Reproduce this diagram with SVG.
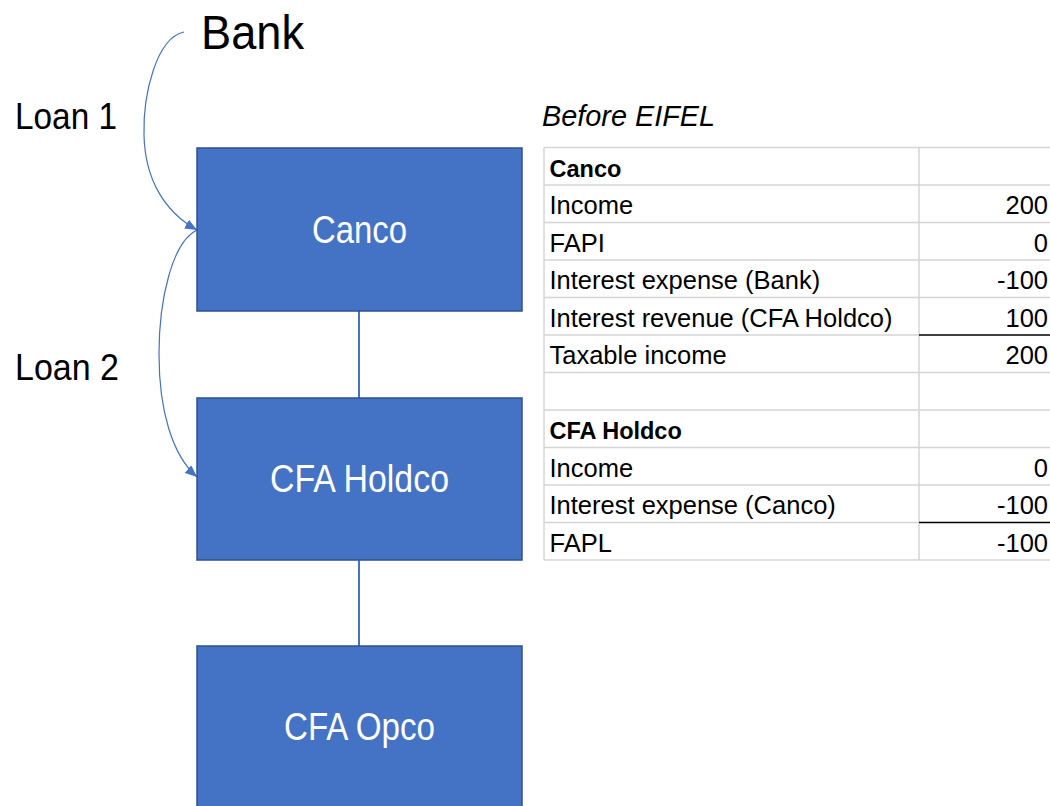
<svg xmlns="http://www.w3.org/2000/svg" width="1050" height="806" viewBox="0 0 1050 806">
  <defs>
    <marker id="arrow" viewBox="0 0 12 10" refX="12" refY="5" markerWidth="12" markerHeight="10" markerUnits="userSpaceOnUse" orient="auto">
      <path d="M0,0 L12,5 L0,10 Z" fill="#4472C4"/>
    </marker>
  </defs>
  <style>
    .box { fill: #4472C4; stroke: #2F528F; stroke-width: 1.5; }
    .boxlabel { font-family: "Liberation Sans", Arial, sans-serif; font-size: 38px; fill: #FFFFFF; text-anchor: middle; }
    .label { font-family: "Liberation Sans", Arial, sans-serif; fill: #000000; }
    .link { fill: none; stroke: #4472C4; stroke-width: 2; }
    .loan { fill: none; stroke: #4472C4; stroke-width: 1.2; marker-end: url(#arrow); }
    .grid { stroke: #D4D4D4; stroke-width: 1.5; }
    .rule { stroke: #000000; stroke-width: 1.5; }
    .cell { font-family: "Liberation Sans", Arial, sans-serif; font-size: 25.5px; fill: #000000; }
    .head { font-family: "Liberation Sans", Arial, sans-serif; font-size: 23.5px; font-weight: bold; fill: #000000; }
    .num { text-anchor: end; }
  </style>
  <rect width="1050" height="806" fill="#FFFFFF"/>

  <!-- connectors -->
  <g id="connectors">
    <line class="link" x1="359" y1="311" x2="359" y2="398"/>
    <line class="link" x1="359" y1="560" x2="359" y2="646"/>
    <path id="loan1" class="loan" d="M184,32 C156,38 143,95 144,135 C145,180 165,212 197,230"/>
    <path id="loan2" class="loan" d="M197,230 C172,242 159,300 159,354 C159,410 172,455 197,477"/>
  </g>

  <!-- entities -->
  <g id="bank">
    <text class="label" x="201" y="49" font-size="49" textLength="103" lengthAdjust="spacingAndGlyphs">Bank</text>
  </g>
  <g id="canco">
    <rect class="box" x="197" y="148" width="325" height="163"/>
    <text class="boxlabel" x="359.5" y="243" textLength="95" lengthAdjust="spacingAndGlyphs">Canco</text>
  </g>
  <g id="cfa-holdco">
    <rect class="box" x="197" y="398" width="325" height="162"/>
    <text class="boxlabel" x="359.5" y="492" textLength="179" lengthAdjust="spacingAndGlyphs">CFA Holdco</text>
  </g>
  <g id="cfa-opco">
    <rect class="box" x="197" y="646" width="325" height="175"/>
    <text class="boxlabel" x="359.5" y="740" textLength="151" lengthAdjust="spacingAndGlyphs">CFA Opco</text>
  </g>

  <!-- loan labels -->
  <g id="loan-labels">
    <text class="label" x="15" y="129" font-size="37" textLength="102" lengthAdjust="spacingAndGlyphs">Loan 1</text>
    <text class="label" x="15" y="380" font-size="37" textLength="104" lengthAdjust="spacingAndGlyphs">Loan 2</text>
  </g>

  <!-- tax computation table -->
  <g id="table">
    <text class="label" x="542" y="126" font-size="30" font-style="italic" textLength="173" lengthAdjust="spacingAndGlyphs">Before EIFEL</text>
    <g id="grid">
      <line class="grid" x1="544" y1="147.5" x2="1050" y2="147.5"/>
      <line class="grid" x1="544" y1="185" x2="1050" y2="185"/>
      <line class="grid" x1="544" y1="222.5" x2="1050" y2="222.5"/>
      <line class="grid" x1="544" y1="260" x2="1050" y2="260"/>
      <line class="grid" x1="544" y1="297.5" x2="1050" y2="297.5"/>
      <line class="grid" x1="544" y1="335" x2="919" y2="335"/>
      <line class="grid" x1="544" y1="372.5" x2="1050" y2="372.5"/>
      <line class="grid" x1="544" y1="410" x2="1050" y2="410"/>
      <line class="grid" x1="544" y1="447.5" x2="1050" y2="447.5"/>
      <line class="grid" x1="544" y1="485" x2="1050" y2="485"/>
      <line class="grid" x1="544" y1="522.5" x2="919" y2="522.5"/>
      <line class="grid" x1="544" y1="560" x2="1050" y2="560"/>
      <line class="grid" x1="544" y1="147.5" x2="544" y2="560"/>
      <line class="grid" x1="919" y1="147.5" x2="919" y2="560"/>
      <line class="rule" x1="919" y1="335" x2="1050" y2="335"/>
      <line class="rule" x1="919" y1="522.5" x2="1050" y2="522.5"/>
    </g>
    <g id="canco-rows">
      <text class="head" x="549.5" y="176.5">Canco</text>
      <text class="cell" x="549.5" y="214">Income</text>
      <text class="cell num" x="1048" y="214">200</text>
      <text class="cell" x="549.5" y="251.5">FAPI</text>
      <text class="cell num" x="1048" y="251.5">0</text>
      <text class="cell" x="549.5" y="289">Interest expense (Bank)</text>
      <text class="cell num" x="1048" y="289">-100</text>
      <text class="cell" x="549.5" y="326.5">Interest revenue (CFA Holdco)</text>
      <text class="cell num" x="1048" y="326.5">100</text>
      <text class="cell" x="549.5" y="364">Taxable income</text>
      <text class="cell num" x="1048" y="364">200</text>
    </g>
    <g id="holdco-rows">
      <text class="head" x="549.5" y="439">CFA Holdco</text>
      <text class="cell" x="549.5" y="476.5">Income</text>
      <text class="cell num" x="1048" y="476.5">0</text>
      <text class="cell" x="549.5" y="514">Interest expense (Canco)</text>
      <text class="cell num" x="1048" y="514">-100</text>
      <text class="cell" x="549.5" y="551.5">FAPL</text>
      <text class="cell num" x="1048" y="551.5">-100</text>
    </g>
  </g>
</svg>
